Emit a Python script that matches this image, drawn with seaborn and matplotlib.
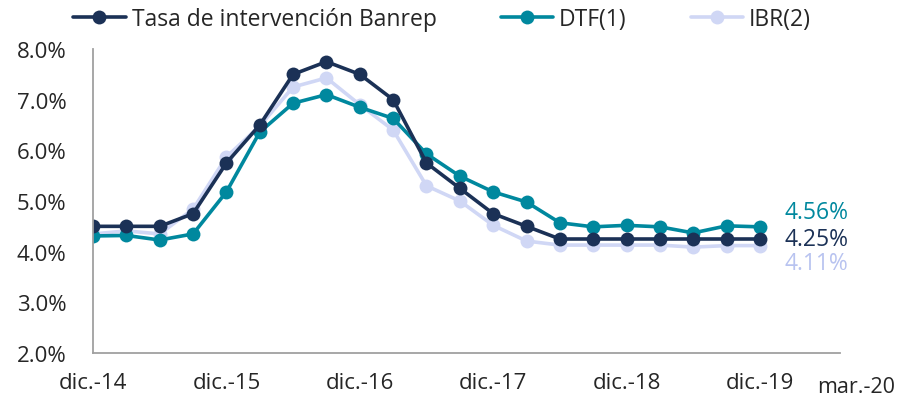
import matplotlib
matplotlib.use("Agg")
import matplotlib.pyplot as plt
import seaborn as sns
import numpy as np
import pandas as pd
from matplotlib.ticker import FuncFormatter

# ==========================================
# DONNEES (trimestrielles, dic.-14 -> dic.-19)
# ==========================================
trimestres = list(range(21))
tick_pos = [0, 4, 8, 12, 16, 20]
tick_labels = ["dic.-14", "dic.-15", "dic.-16", "dic.-17", "dic.-18", "dic.-19"]

banrep = [4.50, 4.50, 4.50, 4.75, 5.75, 6.50, 7.50, 7.75, 7.50, 7.00, 5.75,
          5.25, 4.75, 4.50, 4.25, 4.25, 4.25, 4.25, 4.25, 4.25, 4.25]
dtf = [4.31, 4.32, 4.23, 4.35, 5.18, 6.36, 6.93, 7.10, 6.85, 6.63, 5.93,
       5.49, 5.18, 4.98, 4.57, 4.49, 4.52, 4.49, 4.37, 4.51, 4.49]
ibr = [4.35, 4.41, 4.35, 4.84, 5.87, 6.48, 7.25, 7.43, 6.90, 6.40, 5.30,
       5.00, 4.52, 4.21, 4.13, 4.13, 4.13, 4.13, 4.09, 4.12, 4.12]

noms = ["Tasa de intervención Banrep", "DTF(1)", "IBR(2)"]
derniers = ["4.25%", "4.56%", "4.11%"]

df = pd.DataFrame({"t": trimestres, noms[0]: banrep, noms[1]: dtf, noms[2]: ibr})
df = df.melt(id_vars="t", var_name="serie", value_name="tasa")

couleurs = {noms[0]: "#1b3156", noms[1]: "#00889e", noms[2]: "#d0d7f5"}

# ==========================================
# GRAPHIQUE
# ==========================================
sns.set_style("white")
plt.rcParams["font.family"] = ["Open Sans", "DejaVu Sans"]

fig = plt.figure(figsize=(8.98, 4.02), dpi=100)
ax = fig.add_axes([0.1036, 0.1194, 0.8318, 0.7562])

for nom in [noms[2], noms[1], noms[0]]:
    sns.lineplot(data=df[df["serie"] == nom], x="t", y="tasa", ax=ax,
                 color=couleurs[nom], linewidth=2.6, marker="o", markersize=10,
                 markeredgewidth=0, label=nom)

ax.set_xlim(0, 22.4)
ax.set_ylim(2.0, 8.0)
ax.set_yticks(np.arange(2.0, 8.01, 1.0))
ax.yaxis.set_major_formatter(FuncFormatter(lambda v, p: f"{v:.1f}%"))
ax.set_xticks(tick_pos)
ax.set_xticklabels(tick_labels)
ax.set_xlabel("")
ax.set_ylabel("")

for s in ["top", "right"]:
    ax.spines[s].set_visible(False)
for s in ["left", "bottom"]:
    ax.spines[s].set_color("#a0a0a0")
    ax.spines[s].set_linewidth(1.3)
ax.tick_params(axis="both", which="both", direction="out", length=7, width=1.3,
               color="#a0a0a0", labelsize=16, labelcolor="#262626")
ax.tick_params(axis="x", pad=7)
ax.tick_params(axis="y", pad=12)

# Etiquette finale de l'axe des x
fig.text(0.997, 0.035, "mar.-20", ha="right", va="center",
         fontsize=15.5, color="#262626")

# Valeurs finales
ax.text(20.75, dtf[-1] + 0.3, derniers[1], color=couleurs[noms[1]], fontsize=16.5, va="center")
ax.text(20.75, banrep[-1], derniers[0], color=couleurs[noms[0]], fontsize=16.5, va="center")
ax.text(20.75, ibr[-1] - 0.35, derniers[2], color="#b8c3f0", fontsize=16.5, va="center")

handles, labels = ax.get_legend_handles_labels()
ordre = [labels.index(n) for n in noms]
ax.legend([handles[i] for i in ordre], [labels[i] for i in ordre], ncol=3,
          loc="lower left", bbox_to_anchor=(-0.039, 1.028), frameon=False,
          fontsize=16.5, handlelength=2.3, columnspacing=2.8, handletextpad=0.25,
          borderaxespad=0)

fig.savefig("out.png", dpi=100)
plt.close(fig)
